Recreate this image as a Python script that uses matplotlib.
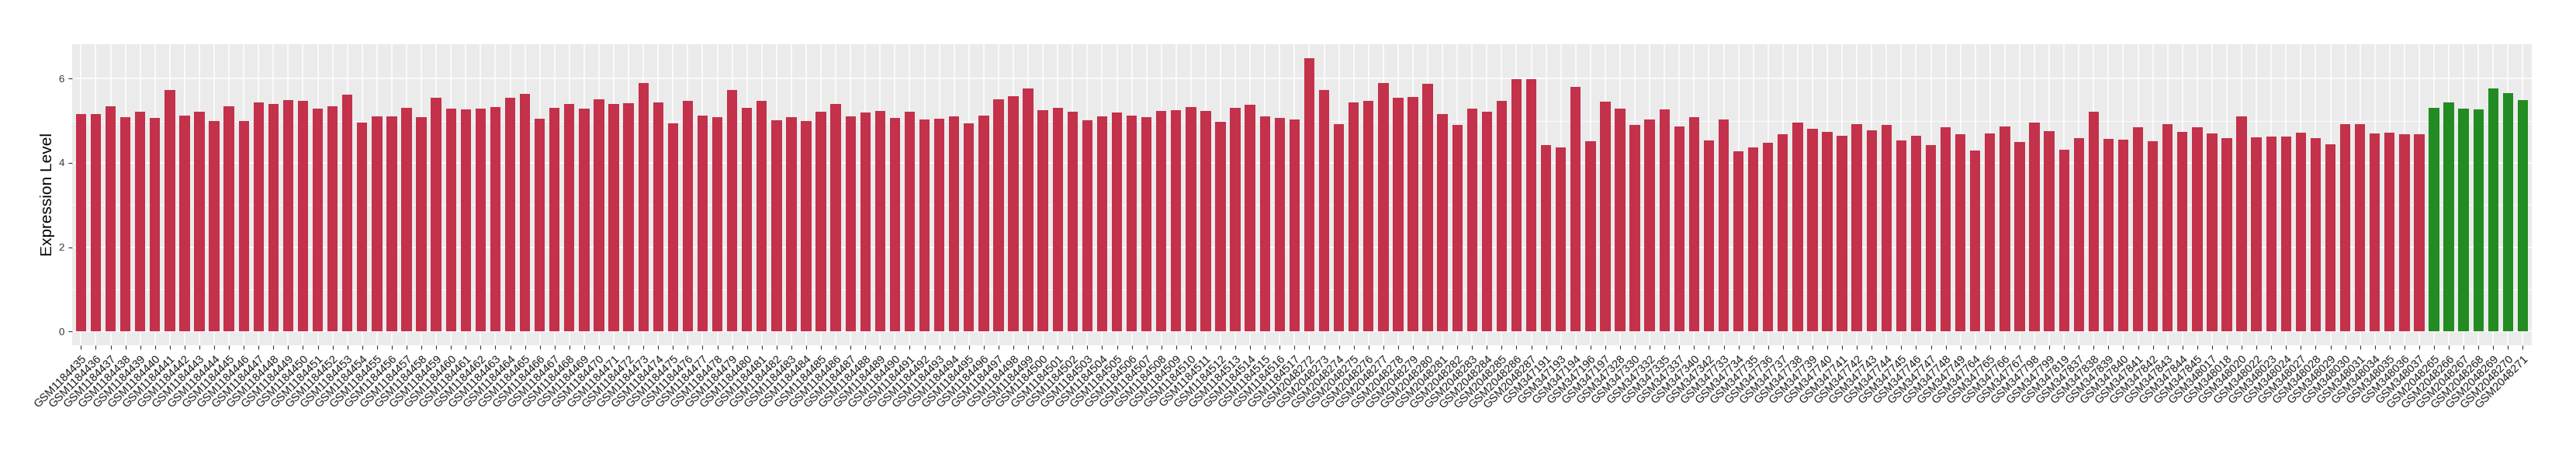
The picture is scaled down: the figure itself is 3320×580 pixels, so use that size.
import matplotlib
matplotlib.use("Agg")
import matplotlib.pyplot as plt
from matplotlib.ticker import MultipleLocator

plt.rcParams['font.family'] = ['Liberation Sans', 'DejaVu Sans']

# sample ids, in plotting order
samples = (
    [f"GSM{n}" for n in range(1184435, 1184518)]
    + [f"GSM{n}" for n in range(2048272, 2048288)]
    + ["GSM347191", "GSM347193", "GSM347194", "GSM347196", "GSM347197",
       "GSM347328", "GSM347330", "GSM347332", "GSM347335", "GSM347337",
       "GSM347340", "GSM347342"]
    + [f"GSM{n}" for n in range(347733, 347750)]
    + ["GSM347764", "GSM347765", "GSM347766", "GSM347767", "GSM347798",
       "GSM347799", "GSM347819", "GSM347837", "GSM347838", "GSM347839",
       "GSM347840", "GSM347841", "GSM347842", "GSM347843", "GSM347844",
       "GSM347845"]
    + ["GSM348017", "GSM348018", "GSM348020", "GSM348022", "GSM348023",
       "GSM348024", "GSM348027", "GSM348028", "GSM348029", "GSM348030",
       "GSM348031", "GSM348034", "GSM348035", "GSM348036", "GSM348037"]
    + [f"GSM{n}" for n in range(2048265, 2048272)]
)

expression = [
    # GSM1184435 - GSM1184517
    5.15, 5.15, 5.35, 5.08, 5.21, 5.06, 5.72, 5.13, 5.21, 4.99,
    5.35, 4.99, 5.43, 5.39, 5.48, 5.47, 5.28, 5.35, 5.61, 4.95,
    5.10, 5.11, 5.31, 5.08, 5.55, 5.28, 5.26, 5.28, 5.33, 5.55,
    5.63, 5.04, 5.30, 5.39, 5.28, 5.50, 5.39, 5.41, 5.90, 5.43,
    4.93, 5.47, 5.13, 5.08, 5.72, 5.31, 5.47, 5.01, 5.08, 4.99,
    5.21, 5.39, 5.11, 5.19, 5.23, 5.06, 5.21, 5.03, 5.04, 5.11,
    4.93, 5.13, 5.50, 5.59, 5.76, 5.25, 5.30, 5.21, 5.01, 5.10,
    5.19, 5.13, 5.08, 5.23, 5.25, 5.33, 5.23, 4.97, 5.30, 5.37,
    5.11, 5.06, 5.03,
    # GSM2048272 - GSM2048287
    6.49, 5.72, 4.92, 5.43, 5.47, 5.90, 5.54, 5.57, 5.87, 5.15,
    4.90, 5.28, 5.21, 5.47, 5.98, 5.99,
    # GSM347191 - GSM347342
    4.42, 4.36, 5.81, 4.52, 5.45, 5.28, 4.90, 5.03, 5.26, 4.86,
    5.08, 4.53,
    # GSM347733 - GSM347749
    5.03, 4.28, 4.36, 4.48, 4.68, 4.95, 4.80, 4.73, 4.64, 4.92,
    4.77, 4.90, 4.53, 4.64, 4.42, 4.84, 4.68,
    # GSM347764 - GSM347845
    4.29, 4.70, 4.86, 4.50, 4.95, 4.75, 4.31, 4.58, 5.21, 4.57,
    4.55, 4.84, 4.52, 4.92, 4.73, 4.84,
    # GSM348017 - GSM348037
    4.70, 4.58, 5.11, 4.60, 4.62, 4.62, 4.72, 4.58, 4.44, 4.92,
    4.92, 4.70, 4.72, 4.68, 4.68,
    # GSM2048265 - GSM2048271
    5.30, 5.43, 5.28, 5.26, 5.77, 5.65, 5.48,
]

n_green = 7  # last group drawn in green
bar_colors = ["#C3314A"] * (len(samples) - n_green) + ["#228B22"] * n_green

fig = plt.figure(figsize=(33.2, 5.8), dpi=100)
ax = fig.add_axes([0.028, 0.2328, 0.9548, 0.669])

x = range(len(samples))
ax.bar(x, expression, width=0.7, color=bar_colors, zorder=3)

ax.set_facecolor("#EBEBEB")
for s in ax.spines.values():
    s.set_visible(False)

top = max(expression)
ax.set_ylim(-0.05 * top, top * 1.05)
ax.set_xlim(-0.6, len(samples) - 0.4)
ax.yaxis.set_major_locator(MultipleLocator(2))
ax.yaxis.set_minor_locator(MultipleLocator(1))
ax.grid(which="major", color="white", linewidth=1.1, zorder=0)
ax.grid(which="minor", axis="y", color="white", linewidth=0.55, zorder=0)
ax.set_axisbelow(True)

ax.set_xticks(list(x))
ax.set_xticklabels(samples, rotation=45, ha="right", va="top",
                   rotation_mode="anchor")
ax.tick_params(axis="both", which="major", length=3.8, width=0.8,
               color="#333333")
ax.tick_params(axis="x", labelsize=10.5, labelcolor="#1A1A1A")
ax.tick_params(axis="y", labelsize=9.5, labelcolor="#333333")
ax.tick_params(axis="y", which="minor", length=0)

ax.set_ylabel("Expression Level", fontsize=15, labelpad=3)

fig.savefig("out.png", dpi=100)
